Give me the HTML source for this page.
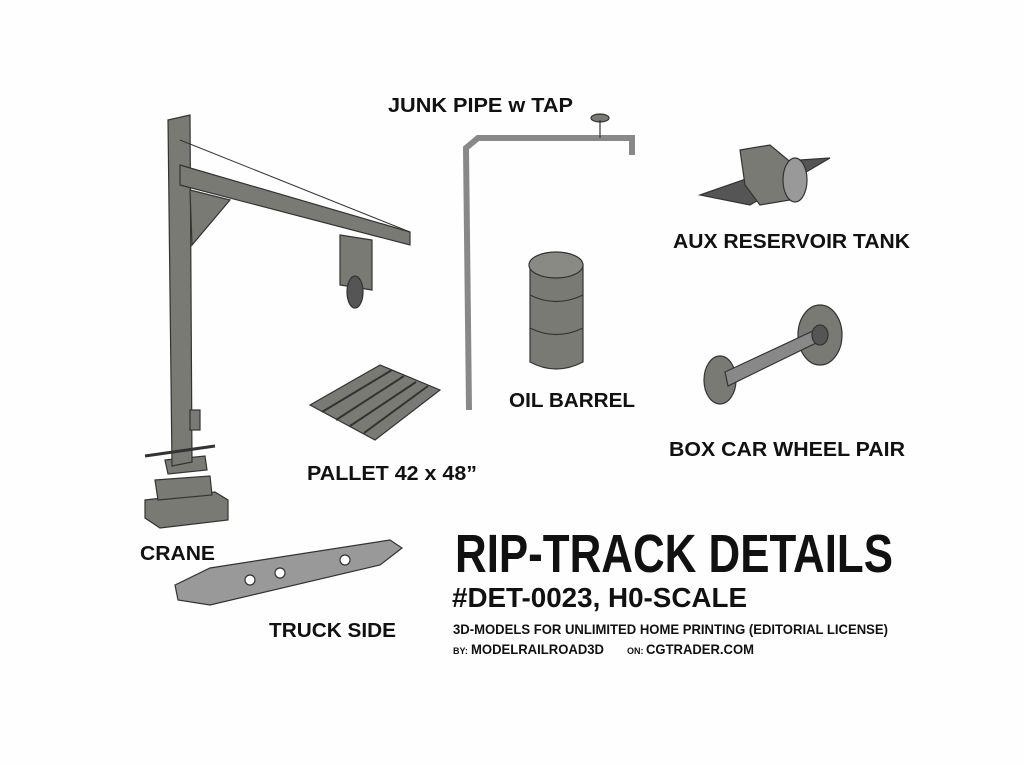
<!DOCTYPE html>
<html><head><meta charset="utf-8"><style>
html,body{margin:0;padding:0;background:#fefefe;}
svg{display:block}
text{font-family:"Liberation Sans",sans-serif;font-weight:bold;fill:#111}
</style></head><body>
<svg width="1024" height="765" viewBox="0 0 1024 765" xmlns="http://www.w3.org/2000/svg">
<rect width="1024" height="765" fill="#fefefe"/>
<g stroke="#333" stroke-width="1.2" fill="#7a7a74">
<!-- crane -->
<polygon points="145,500 215,492 228,500 228,520 160,528 145,518"/>
<polygon points="155,480 210,476 212,495 158,500"/>
<polygon points="165,460 205,456 207,470 168,474"/>
<polygon points="168,120 190,115 192,462 172,466"/>
<polygon points="180,165 410,232 410,245 180,185"/>
<polygon points="190,190 230,200 192,245"/>
<line x1="180" y1="140" x2="410" y2="232" fill="none" stroke-width="1"/>
<polygon points="340,235 372,240 372,290 340,285"/>
<ellipse cx="355" cy="292" rx="8" ry="16" fill="#555"/>
<rect x="190" y="410" width="10" height="20"/>
<line x1="145" y1="456" x2="215" y2="446" stroke-width="3"/>
<!-- pipe -->
<path d="M469,410 L466,148 L478,138 L632,138 L632,155" fill="none" stroke="#888" stroke-width="6"/>
<ellipse cx="600" cy="118" rx="9" ry="4"/>
<line x1="600" y1="120" x2="600" y2="138"/>
<!-- barrel -->
<path d="M530,265 L530,362 Q556,376 583,362 L583,265 Z"/>
<ellipse cx="556" cy="265" rx="27" ry="13" fill="#8a8a84"/>
<path d="M530,295 Q556,308 583,295 M530,328 Q556,341 583,328" fill="none"/>
<!-- pallet -->
<polygon points="310,405 380,365 440,390 375,440"/>
<path d="M322,412 L392,370 M336,420 L404,376 M350,426 L416,382 M364,433 L428,386" fill="none" stroke="#333" stroke-width="2"/>
<!-- tank -->
<polygon points="700,195 800,160 830,158 750,205" fill="#555"/>
<polygon points="740,150 770,145 800,170 790,200 760,205 745,185"/>
<ellipse cx="795" cy="180" rx="12" ry="22" fill="#999"/>
<!-- wheelpair -->
<ellipse cx="720" cy="380" rx="16" ry="24"/>
<ellipse cx="820" cy="335" rx="22" ry="30"/>
<polygon points="725,372 815,330 818,342 728,386" fill="#888"/>
<ellipse cx="820" cy="335" rx="8" ry="10" fill="#555"/>
<!-- truck side -->
<polygon points="175,585 210,568 390,540 402,548 380,565 210,605 178,600" fill="#999"/>
<circle cx="250" cy="580" r="5" fill="#fff"/><circle cx="280" cy="573" r="5" fill="#fff"/><circle cx="345" cy="560" r="5" fill="#fff"/>
</g>
<text x="388" y="112" font-size="20" textLength="185" lengthAdjust="spacingAndGlyphs">JUNK PIPE w TAP</text>
<text x="673" y="248" font-size="20" textLength="237" lengthAdjust="spacingAndGlyphs">AUX RESERVOIR TANK</text>
<text x="509" y="407" font-size="20" textLength="126" lengthAdjust="spacingAndGlyphs">OIL BARREL</text>
<text x="669" y="456" font-size="20" textLength="236" lengthAdjust="spacingAndGlyphs">BOX CAR WHEEL PAIR</text>
<text x="307" y="480" font-size="20" textLength="170" lengthAdjust="spacingAndGlyphs">PALLET 42 x 48”</text>
<text x="140" y="560" font-size="20" textLength="75" lengthAdjust="spacingAndGlyphs">CRANE</text>
<text x="269" y="637" font-size="20" textLength="127" lengthAdjust="spacingAndGlyphs">TRUCK SIDE</text>
<text x="455" y="572" font-size="54" textLength="438" lengthAdjust="spacingAndGlyphs">RIP-TRACK DETAILS</text>
<text x="452" y="607" font-size="28" textLength="295" lengthAdjust="spacingAndGlyphs">#DET-0023, H0-SCALE</text>
<text x="453" y="634" font-size="14" textLength="435" lengthAdjust="spacingAndGlyphs">3D-MODELS FOR UNLIMITED HOME PRINTING (EDITORIAL LICENSE)</text>
<text x="453" y="654" font-size="9">BY:</text>
<text x="471" y="654" font-size="14" textLength="133" lengthAdjust="spacingAndGlyphs">MODELRAILROAD3D</text>
<text x="627" y="654" font-size="9">ON:</text>
<text x="646" y="654" font-size="14" textLength="108" lengthAdjust="spacingAndGlyphs">CGTRADER.COM</text>
</svg>
</body></html>
